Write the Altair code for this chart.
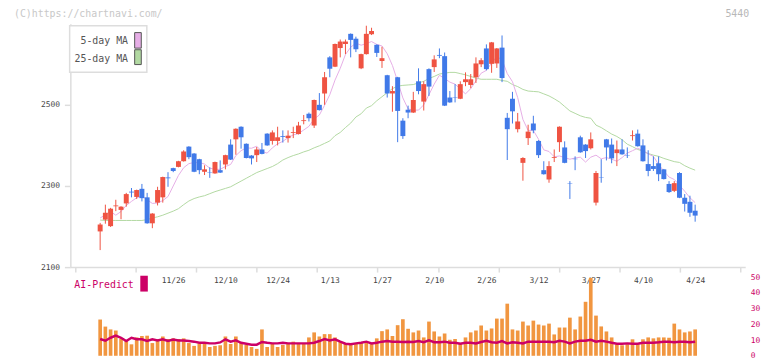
import altair as alt
import pandas as pd

# ---------------- data ----------------
opens = [2206, 2188, 2217, 2201, 2250, 2241, 2257, 2286, 2273, 2293,
         2272, 2208, 2259, 2272, 2321, 2344, 2347, 2361, 2397, 2380,
         2366, 2335, 2334, 2331, 2339, 2353, 2402, 2415, 2446, 2404,
         2375, 2376, 2390, 2429, 2411, 2411, 2423, 2418, 2431, 2428,
         2460, 2478, 2449, 2500, 2528, 2617, 2594, 2640, 2650, 2675,
         2663, 2590, 2625, 2674, 2648, 2608, 2573, 2528, 2568, 2461,
         2488, 2481, 2558, 2508, 2588, 2593, 2623, 2620, 2518, 2518,
         2515, 2556, 2549, 2568, 2600, 2639, 2601, 2602, 2641, 2468,
         2515, 2440, 2357, 2418, 2454, 2411, 2339, 2316, 2369, 2408,
         2395, 2306, 2367, 2420, 2402, 2393, 2259, 2321, 2415, 2402,
         2381, 2390, 2376, 2423, 2429, 2400, 2354, 2349, 2356, 2341,
         2305, 2288, 2332, 2271, 2261, 2239]
highs = [2206, 2209, 2254, 2246, 2266, 2250, 2283, 2295, 2291, 2305,
         2283, 2233, 2298, 2323, 2334, 2345, 2362, 2388, 2398, 2381,
         2367, 2351, 2346, 2360, 2363, 2377, 2415, 2442, 2447, 2405,
         2376, 2396, 2406, 2430, 2437, 2446, 2437, 2437, 2446, 2458,
         2475, 2481, 2513, 2529, 2581, 2620, 2651, 2661, 2661, 2676,
         2668, 2626, 2695, 2690, 2649, 2643, 2574, 2546, 2569, 2467,
         2498, 2532, 2590, 2558, 2590, 2622, 2639, 2629, 2534, 2551,
         2558, 2580, 2576, 2617, 2615, 2649, 2655, 2640, 2671, 2480,
         2532, 2480, 2371, 2451, 2473, 2413, 2361, 2361, 2390, 2447,
         2410, 2312, 2373, 2424, 2403, 2432, 2337, 2366, 2416, 2417,
         2412, 2415, 2395, 2437, 2439, 2415, 2388, 2373, 2373, 2342,
         2312, 2312, 2334, 2280, 2276, 2254]
lows = [2206, 2142, 2207, 2199, 2238, 2218, 2249, 2272, 2268, 2262,
        2207, 2196, 2252, 2259, 2298, 2334, 2346, 2360, 2366, 2334,
        2329, 2327, 2320, 2330, 2332, 2341, 2364, 2377, 2392, 2368,
        2353, 2359, 2378, 2399, 2402, 2400, 2407, 2407, 2418, 2427,
        2452, 2459, 2443, 2486, 2500, 2568, 2593, 2617, 2625, 2617,
        2630, 2588, 2624, 2672, 2618, 2591, 2518, 2483, 2408, 2416,
        2467, 2480, 2526, 2486, 2522, 2581, 2615, 2497, 2505, 2506,
        2514, 2546, 2541, 2554, 2593, 2585, 2579, 2591, 2556, 2364,
        2454, 2432, 2313, 2401, 2430, 2369, 2328, 2308, 2359, 2384,
        2356, 2268, 2339, 2382, 2369, 2390, 2252, 2308, 2363, 2356,
        2349, 2377, 2369, 2412, 2397, 2360, 2324, 2337, 2312, 2316,
        2283, 2285, 2270, 2237, 2224, 2212]
closes = [2206, 2205, 2234, 2244, 2252, 2249, 2280, 2284, 2290, 2270,
          2208, 2232, 2290, 2322, 2319, 2337, 2361, 2385, 2371, 2335,
          2339, 2341, 2333, 2359, 2333, 2376, 2365, 2441, 2420, 2369,
          2368, 2390, 2379, 2400, 2432, 2420, 2421, 2424, 2433, 2449,
          2462, 2467, 2512, 2487, 2568, 2589, 2650, 2656, 2656, 2660,
          2637, 2625, 2675, 2682, 2628, 2615, 2528, 2534, 2485, 2423,
          2481, 2512, 2534, 2551, 2545, 2612, 2621, 2498, 2506, 2517,
          2551, 2563, 2563, 2602, 2610, 2588, 2654, 2639, 2566, 2440,
          2484, 2459, 2369, 2434, 2437, 2376, 2329, 2349, 2371, 2446,
          2357, 2305, 2366, 2383, 2386, 2415, 2332, 2320, 2395, 2368,
          2390, 2378, 2375, 2425, 2398, 2361, 2337, 2342, 2329, 2317,
          2285, 2307, 2271, 2256, 2234, 2227]
ma5 = [None, 2221, 2229, 2237, 2228, 2237, 2252, 2262, 2271, 2275,
       2266, 2257, 2258, 2264, 2274, 2300, 2326, 2345, 2355, 2358,
       2358, 2354, 2344, 2341, 2341, 2348, 2353, 2375, 2387, 2394,
       2393, 2398, 2385, 2381, 2394, 2404, 2410, 2419, 2426, 2429,
       2438, 2447, 2465, 2475, 2499, 2525, 2561, 2590, 2624, 2642,
       2652, 2647, 2651, 2656, 2649, 2645, 2626, 2597, 2558, 2517,
       2490, 2487, 2487, 2500, 2525, 2551, 2573, 2565, 2556, 2551,
       2539, 2527, 2540, 2559, 2578, 2585, 2603, 2619, 2611, 2577,
       2557, 2518, 2464, 2437, 2437, 2415, 2389, 2385, 2372, 2374,
       2370, 2366, 2369, 2371, 2359, 2371, 2376, 2367, 2370, 2366,
       2361, 2370, 2381, 2387, 2393, 2387, 2379, 2373, 2353, 2337,
       2322, 2316, 2302, 2287, 2271, 2259]
ma25 = [None, 2216, 2215, 2215, 2215, 2215, 2215, 2215, 2215, 2215,
        2217, 2221, 2224, 2228, 2233, 2238, 2244, 2254, 2263, 2269,
        2273, 2276, 2281, 2286, 2290, 2294, 2298, 2305, 2312, 2319,
        2326, 2333, 2338, 2343, 2348, 2355, 2364, 2370, 2375, 2379,
        2384, 2388, 2394, 2399, 2405, 2411, 2424, 2432, 2444, 2455,
        2470, 2478, 2492, 2498, 2510, 2520, 2530, 2540, 2546, 2548,
        2549, 2550, 2554, 2558, 2565, 2570, 2576, 2578, 2580, 2580,
        2577, 2574, 2570, 2566, 2563, 2563, 2563, 2563, 2560, 2558,
        2550, 2545, 2538, 2534, 2533, 2532, 2527, 2522, 2515, 2507,
        2496, 2485, 2479, 2473, 2469, 2467, 2450, 2444, 2436, 2428,
        2422, 2414, 2403, 2397, 2390, 2386, 2380, 2376, 2373, 2368,
        2364, 2360, 2358, 2350, 2344, 2339]
volume = [None, 23.1, 18.6, 16.8, 16.1, 10.7, 9.6, 7.3, 11.7, 12.6,
          12.8, 8.1, 10.7, 12.3, 10.7, 11.1, 10.7, 11.1, 8.1, 6.3,
          7.9, 7.5, 5.6, 6.3, 6.7, 12.3, 7.5, 12.3, 8.1, 6.9,
          5.6, 4.4, 16.8, 5.6, 7.9, 5.6, 6.9, 7.9, 9.0, 7.9,
          7.9, 11.7, 14.9, 12.3, 13.8, 13.8, 11.7, 9.0, 7.9, 7.9,
          7.9, 8.3, 9.0, 7.9, 11.1, 15.7, 16.8, 12.6, 19.5, 23.3,
          17.2, 14.9, 16.1, 11.7, 21.8, 15.5, 12.3, 14.2, 10.2, 10.7,
          8.3, 11.7, 14.9, 16.1, 19.3, 16.1, 17.4, 23.7, 23.7, 33.2,
          16.8, 16.1, 21.8, 19.3, 22.4, 19.9, 19.3, 20.5, 13.6, 18.0,
          18.0, 24.3, 16.8, 25.0, 34.4, 49.6, 25.6, 18.7, 15.5, 11.7,
          7.3, 6.7, 7.3, 10.5, 7.3, 10.5, 11.7, 11.1, 11.7, 11.7,
          11.5, 20.5, 16.8, 14.9, 15.5, 16.8]
ai_predict = [None, 10.7, 9.6, 11.5, 12.8, 11.5, 9.4, 11.5, 10.5, 10.5,
              9.4, 10.5, 9.8, 10.5, 9.4, 10.3, 9.8, 9.8, 9.4, 9.0,
              8.3, 8.3, 7.9, 7.9, 8.5, 10.5, 9.0, 9.8, 8.3, 7.7,
              7.1, 7.1, 8.8, 8.3, 7.9, 7.9, 8.3, 7.9, 7.9, 7.9,
              7.9, 7.9, 8.3, 9.4, 10.7, 9.8, 10.5, 9.0, 7.7, 7.3,
              7.9, 8.3, 9.0, 7.9, 8.3, 9.0, 9.4, 9.0, 9.0, 8.8,
              9.0, 8.8, 9.4, 8.6, 9.8, 8.6, 8.6, 9.0, 8.3, 8.3,
              7.7, 8.3, 8.3, 7.9, 8.8, 9.6, 8.6, 8.3, 9.4, 7.9,
              8.6, 8.3, 7.9, 9.0, 9.0, 9.0, 9.0, 9.0, 8.6, 9.6,
              9.0, 7.9, 9.0, 9.6, 9.6, 10.2, 9.0, 9.6, 9.0, 8.3,
              7.7, 7.7, 7.9, 7.7, 7.7, 8.3, 8.3, 8.3, 8.6, 9.0,
              9.0, 8.6, 9.0, 9.0, 8.6, 9.0]

label_idx = [15, 25, 35, 45, 55, 65, 75, 85, 95, 105, 115]
label_txt = ["11/26", "12/10", "12/24", "1/13", "1/27", "2/10",
             "2/26", "3/12", "3/27", "4/10", "4/24"]
price_ticks = [2100, 2300, 2500]
vol_ticks = [0, 10, 20, 30, 40, 50]

# ---------------- styling ----------------
MONO = "DejaVu Sans Mono"
RED, BLUE = "#ef5342", "#4079e8"
PINK, GREEN = "#e6aee6", "#b2d9a2"
ORANGE, CRIMSON = "#f19640", "#cc0066"
AXIS_GRAY = "#dddddd"

W, H = 682, 348
AXIS_Y = 256          # y of the price panel's bottom axis inside the plot
STEP = 5.353          # px per trading day
FIRST = 20.15         # px from left of plot to first candle
XLO = -FIRST / STEP
XHI = (W - FIRST) / STEP
grid_vals = [(62 * k - FIRST) / STEP for k in range(12)]

df = pd.DataFrame({
    "i": list(range(len(opens))),
    "open": opens, "high": highs, "low": lows, "close": closes,
    "ma5": ma5, "ma25": ma25, "volume": volume, "ai": ai_predict,
})
df["dir"] = ["up" if c >= o else "down" for o, c in zip(opens, closes)]

xscale = alt.Scale(domain=[XLO, XHI], nice=False, zero=False)
price_scale = alt.Scale(domain=[2100, 2700], range=[AXIS_Y, 10], nice=False, zero=False)
vol_scale = alt.Scale(domain=[0, 50], range=[345.6, 266.3], nice=False, zero=True)

label_expr = " : ".join(
    f"datum.value == {k} ? '{t}'" for k, t in zip(label_idx, label_txt)
) + " : ''"

grid_axis = alt.Axis(orient="bottom", values=grid_vals, labels=False, ticks=True,
                     tickSize=5, tickWidth=1.5, tickColor=AXIS_GRAY,
                     domainColor=AXIS_GRAY, domainWidth=1.5, grid=False,
                     title=None, offset=AXIS_Y - H)
date_axis = alt.Axis(orient="bottom", values=label_idx, labelExpr=label_expr,
                     ticks=False, tickSize=0, domain=False, grid=False, title=None,
                     offset=AXIS_Y - H, labelPadding=14, labelBaseline="middle",
                     labelFont=MONO, labelFontSize=8, labelColor="#444444",
                     labelOverlap=False, labelFlush=False)
price_axis = alt.Axis(orient="left", values=price_ticks, grid=False, title=None,
                      domainColor=AXIS_GRAY, domainWidth=1.5, tickColor=AXIS_GRAY,
                      tickWidth=1.5, tickSize=6, labelPadding=5, labelFont=MONO,
                      labelFontSize=8, labelColor="#444444", format="d")
vol_axis = alt.Axis(orient="right", values=vol_ticks, grid=False, title=None,
                    domain=False, ticks=False, labelPadding=5, labelFont=MONO,
                    labelFontSize=8, labelColor=CRIMSON, format="d")

x_price = alt.X("i:Q", scale=xscale, axis=grid_axis)
x_vol = alt.X("i:Q", scale=xscale, axis=date_axis)
color_enc = alt.Color("dir:N", scale=alt.Scale(domain=["up", "down"], range=[RED, BLUE]),
                      legend=None)

base = alt.Chart(df)
ma25_line = base.mark_line(color=GREEN, strokeWidth=1).encode(
    x=x_price, y=alt.Y("ma25:Q", scale=price_scale, axis=price_axis))
ma5_line = base.mark_line(color=PINK, strokeWidth=1).encode(
    x=x_price, y=alt.Y("ma5:Q", scale=price_scale, axis=price_axis))
wicks = base.mark_rule(strokeWidth=1).encode(
    x=x_price, y=alt.Y("low:Q", scale=price_scale, axis=price_axis),
    y2="high:Q", color=color_enc)
bodies = base.mark_bar(size=5).encode(
    x=x_price, y=alt.Y("open:Q", scale=price_scale, axis=price_axis),
    y2="close:Q", color=color_enc)
price = alt.layer(ma25_line, ma5_line, wicks, bodies)

vol_bars = base.mark_bar(size=3.7, color=ORANGE).encode(
    x=x_vol, y=alt.Y("volume:Q", scale=vol_scale, axis=vol_axis))
ai_line = base.mark_line(color=CRIMSON, strokeWidth=2.5).encode(
    x=x_vol, y=alt.Y("ai:Q", scale=vol_scale, axis=vol_axis))
vol = alt.layer(vol_bars, ai_line)

one = alt.Chart(pd.DataFrame({"k": [0]}))


def txt(s, x, y, align, size, color):
    return one.mark_text(align=align, baseline="middle", font=MONO,
                         fontSize=size, color=color).encode(
        x=alt.value(x), y=alt.value(y), text=alt.value(s))


def box(x, x2, y, y2, fill, stroke, sw):
    return one.mark_rect(fill=fill, stroke=stroke, strokeWidth=sw).encode(
        x=alt.value(x), x2=alt.value(x2), y=alt.value(y), y2=alt.value(y2))


deco = [
    txt("(C)https://chartnavi.com/", -57, 0.7, "left", 10, "#c8c8c8"),
    txt("5440", 686, 0.3, "right", 10, "#b8b8b8"),
    box(-0.7, 77.3, 12, 59, "white", AXIS_GRAY, 1.5),
    txt("5-day MA", 58.3, 28, "right", 10, "#555555"),
    txt("25-day MA", 58.3, 45.3, "right", 10, "#555555"),
    box(65, 71.7, 19, 34.7, PINK, "#555555", 1),
    box(65, 71.7, 36.3, 51.3, GREEN, "#555555", 1),
    txt("AI-Predict", 4, 273.7, "left", 10, CRIMSON),
    box(70.7, 78.3, 264.7, 280.7, CRIMSON, CRIMSON, 0),
]

chart = alt.layer(price, vol, *deco).resolve_scale(
    y="independent"
).resolve_axis(
    x="independent", y="independent"
).properties(
    width=W, height=H,
    autosize=alt.AutoSizeParams(type="none"),
    padding={"left": 63, "top": 4, "right": 19, "bottom": 0},
).configure_view(stroke=None)

chart.save("out.html", embed_options={"renderer": "svg", "actions": False})
